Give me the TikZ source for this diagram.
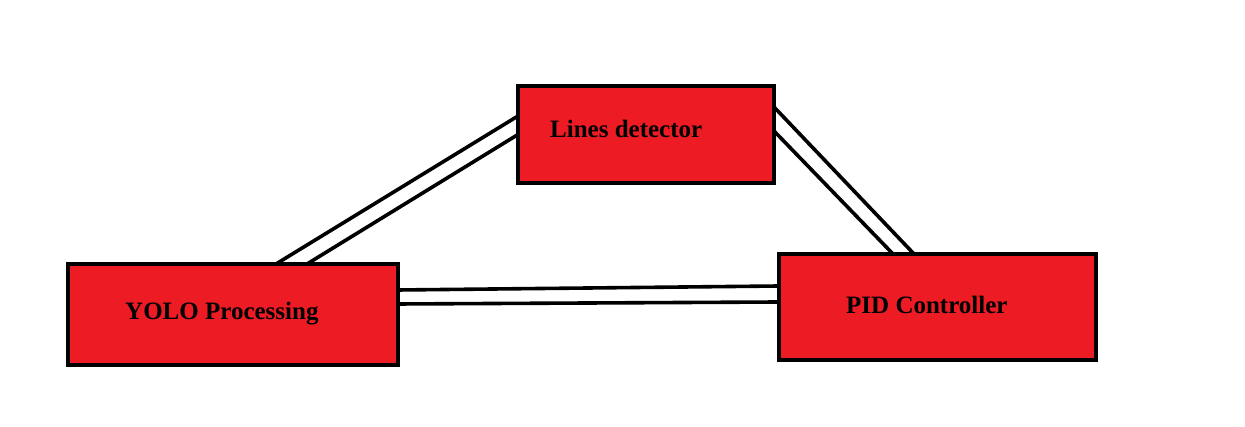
\documentclass[tikz,border=0pt]{standalone}
\usepackage{fontspec}
\setmainfont{Liberation Serif}
\definecolor{paintred}{RGB}{237,28,36}
\begin{document}
\begin{tikzpicture}[x=1pt,y=1pt,
  box/.style={draw=black,fill=paintred,line width=4pt,rectangle,inner sep=0pt,outer sep=0pt},
  lbl/.style={anchor=base west,inner sep=0pt,font=\fontsize{25}{28}\selectfont\bfseries},
  conn/.style={draw=black,line width=3.6pt}]
\fill[white] (0,0) rectangle (1245,427);
\useasboundingbox (0,0) rectangle (1245,427);
% boxes
\node[box,minimum width=256pt,minimum height=97pt] (ld) at (646,292.5) {};
\node[box,minimum width=330pt,minimum height=101pt] (yolo) at (233,112.5) {};
\node[box,minimum width=317pt,minimum height=106pt] (pid) at (937.5,120) {};
% labels
\node[lbl] (ldt) at (550,289) {Lines detector};
\node[lbl] (yolot) at (125,107) {YOLO Processing};
\node[lbl] (pidt) at (846,113) {PID Controller};
% connectors
\draw[conn] ([yshift=18.5pt]ld.west) -- ([xshift=43pt]yolo.north);
\draw[conn] (ld.west) -- ([xshift=74pt]yolo.north);
\draw[conn] ([yshift=27.5pt]ld.east) -- ([xshift=-23.5pt]pid.north);
\draw[conn] ([yshift=3.5pt]ld.east) -- ([xshift=-44.5pt]pid.north);
\draw[conn] ([yshift=24.5pt]yolo.east) -- ([yshift=21pt]pid.west);
\draw[conn] ([yshift=10.5pt]yolo.east) -- ([yshift=5pt]pid.west);
\end{tikzpicture}
\end{document}
